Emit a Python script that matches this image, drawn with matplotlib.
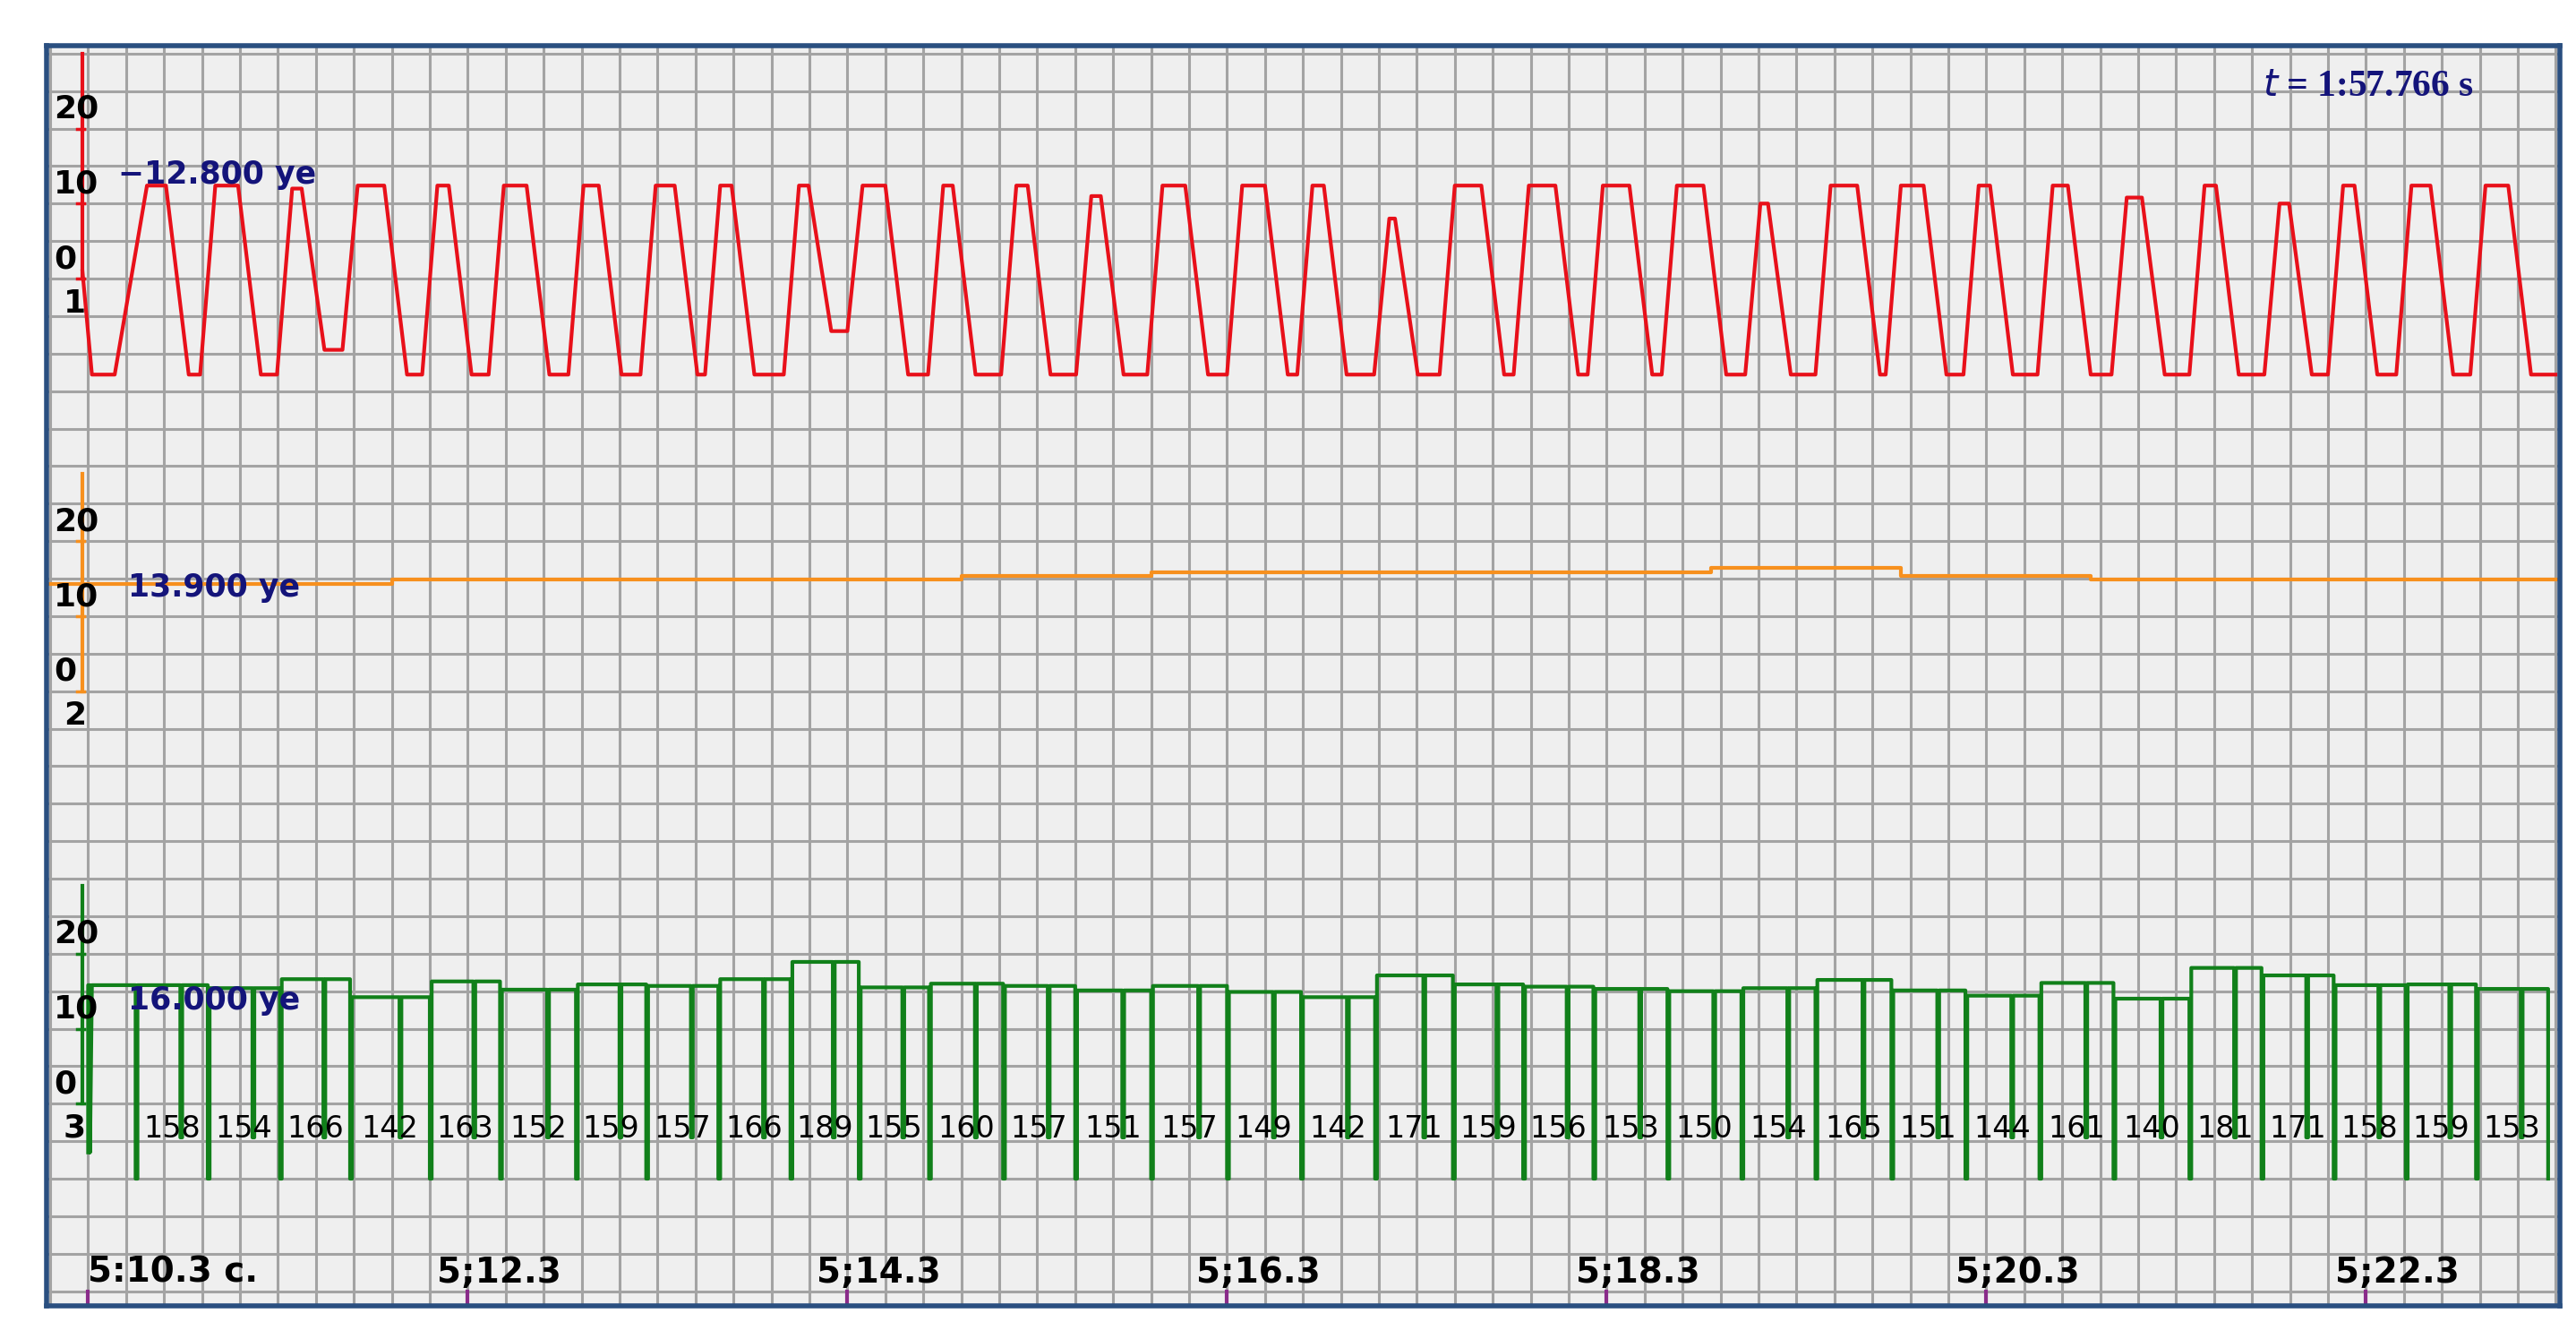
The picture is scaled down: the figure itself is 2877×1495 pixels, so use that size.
"""Three-channel recorder screen: respiration (red), orange trend, green beat steps."""

import matplotlib.pyplot as plt
import numpy as np

# ---- data (time in s, 5:10.3 = 310.3) ----
red_peak_t = [310.66, 311.03, 311.40, 311.79, 312.17, 312.55, 312.95, 313.34, 313.66, 314.07,
              314.44, 314.83, 315.22, 315.61, 316.02, 316.44, 316.78, 317.17, 317.57, 317.96,
              318.35, 318.74, 319.13, 319.55, 319.91, 320.29, 320.69, 321.08, 321.48, 321.87,
              322.21, 322.59, 322.99]
red_peak_v = [12.4, 12.4, 12.0, 12.4, 12.4, 12.4, 12.4, 12.4, 12.4, 12.4,
              12.4, 12.4, 12.4, 11.0, 12.4, 12.4, 12.4, 8.0, 12.4, 12.4,
              12.4, 12.4, 10.0, 12.4, 12.4, 12.4, 12.4, 10.8, 12.4, 10.0,
              12.4, 12.4, 12.4]
red_peak_w = [0.10, 0.12, 0.05, 0.14, 0.06, 0.12, 0.08, 0.10, 0.06, 0.05,
              0.12, 0.05, 0.06, 0.05, 0.12, 0.12, 0.06, 0.03, 0.14, 0.14,
              0.14, 0.14, 0.04, 0.14, 0.12, 0.06, 0.08, 0.08, 0.06, 0.05,
              0.06, 0.10, 0.12]
red_trough_v = [-12.8, -12.8, -9.5, -12.8, -12.8, -12.8, -12.8, -12.8, -12.8, -7.0,
                -12.8, -12.8, -12.8, -12.8, -12.8, -12.8, -12.8, -12.8, -12.8, -12.8,
                -12.8, -12.8, -12.8, -12.8, -12.8, -12.8, -12.8, -12.8, -12.8, -12.8,
                -12.8, -12.8, -12.8]

orange_t = [310.08, 311.90, 314.90, 315.90, 318.85, 319.85, 320.85, 323.32]
orange_v = [14.3, 14.9, 15.4, 15.8, 16.4, 15.4, 14.9, 14.9]

green_edges = [310.55, 310.93, 311.31, 311.68, 312.10, 312.47, 312.87, 313.24, 313.62, 314.00,
               314.36, 314.73, 315.12, 315.50, 315.90, 316.30, 316.69, 317.08, 317.49, 317.86,
               318.23, 318.62, 319.01, 319.40, 319.80, 320.19, 320.58, 320.97, 321.37, 321.75,
               322.13, 322.51, 322.88, 323.26]
green_labels = [158, 154, 166, 142, 163, 152, 159, 157, 166, 189, 155, 160, 157, 151, 157, 149,
                142, 171, 159, 156, 153, 150, 154, 165, 151, 144, 161, 140, 181, 171, 158, 159, 153]

time_ticks = [310.3, 312.3, 314.3, 316.3, 318.3, 320.3, 322.3]
time_labels = ['5:10.3 c.', '5;12.3', '5;14.3', '5;16.3', '5;18.3', '5;20.3', '5;22.3']

OFF = {'red': 0, 'orange': -55, 'green': -110}
RED, ORANGE, GREEN, NAVY = '#e8101a', '#f7901e', '#11801a', '#14147a'

fig = plt.figure(figsize=(28.77, 14.95), dpi=100)
ax = fig.add_axes([0.018, 0.0245, 0.9756, 0.9411])
ax.set_facecolor('#efefef')
ax.set_xlim(310.08, 323.32)
ax.set_ylim(-137, 31)
ax.set_xticks(np.arange(310.1, 323.4, 0.2))
ax.set_yticks(np.arange(-135, 31, 5))
ax.grid(True, color='#a3a3a3', lw=2.2)
ax.tick_params(left=False, bottom=False, labelleft=False, labelbottom=False)
for s in ax.spines.values():
    s.set_color('#2a4f80')
    s.set_linewidth(4)

# red trace
xs, ys = [310.27, 310.32, 310.44], [1.0, -12.8, -12.8]
for i, tp in enumerate(red_peak_t):
    w = red_peak_w[i]
    xs += [tp - w / 2, tp + w / 2, tp + w / 2 + 0.12]
    ys += [red_peak_v[i], red_peak_v[i], red_trough_v[i]]
    nxt = red_peak_t[i + 1] - red_peak_w[i + 1] / 2 - 0.08 if i + 1 < len(red_peak_t) else 323.3
    xs.append(nxt); ys.append(red_trough_v[i])
ax.plot(xs, ys, color=RED, lw=3)

# orange trace
ax.step(orange_t, np.array(orange_v) + OFF['orange'], where='post', color=ORANGE, lw=3)

# green beat trace
g = OFF['green']
prev = g + 15.8
gx, gy = [310.30, 310.30, 310.31, 310.31, 310.32], [g - 6.5, prev, prev, g - 6.5, prev]
for i, lab in enumerate(green_labels):
    a, b = green_edges[i], green_edges[i + 1]
    lvl = lab / 10 + g
    sd = a + 0.62 * (b - a)
    gx += [a, a, a + 0.01, a + 0.01, sd, sd, sd + 0.01, sd + 0.01]
    gy += [prev, g - 10, g - 10, lvl, lvl, g - 4.5, g - 4.5, lvl]
    prev = lvl
    ax.text((a + b) / 2, g - 3.4, str(lab), fontsize=24, ha='center', va='center')
gx += [green_edges[-1], green_edges[-1]]; gy += [prev, g - 10]
ax.plot(gx, gy, color=GREEN, lw=3)

# channel axes, ticks and labels
tx = 310.27
for name, col, top, num in [('red', RED, 30, '1'), ('orange', ORANGE, 29, '2'), ('green', GREEN, 29, '3')]:
    o = OFF[name]
    ax.plot([tx, tx], [o, o + top], color=col, lw=3)
    for v in (0, 10, 20):
        ax.plot([tx - 0.03, tx + 0.01], [o + v, o + v], color=col, lw=2.5)
        ax.text(310.12, o + v + 2.6, str(v), fontsize=26, fontweight='bold', va='center', ha='left')
    ax.text(310.17, o - 3.3, num, fontsize=26, fontweight='bold', va='center', ha='left')

ax.text(310.46, 13.8, '\u221212.800 ye', color=NAVY, fontsize=25, fontweight='bold', va='center')
ax.text(310.51, OFF['orange'] + 13.8, '13.900 ye', color=NAVY, fontsize=25, fontweight='bold', va='center')
ax.text(310.51, OFF['green'] + 13.8, '16.000 ye', color=NAVY, fontsize=25, fontweight='bold', va='center')
ax.text(322.87, 25.6, '$t$ = 1:57.766 s', color=NAVY, fontsize=30, fontweight='bold',
        family='Liberation Serif', va='center', ha='right')

for t, lab in zip(time_ticks, time_labels):
    ax.plot([t, t], [-135, -136.8], color='#8a2b8a', lw=3)
    ax.text(t if t == time_ticks[0] else t - 0.16, -132.5, lab, fontsize=28, fontweight='bold',
            va='center', ha='left')

fig.savefig('out.png', dpi=100, facecolor='white')
